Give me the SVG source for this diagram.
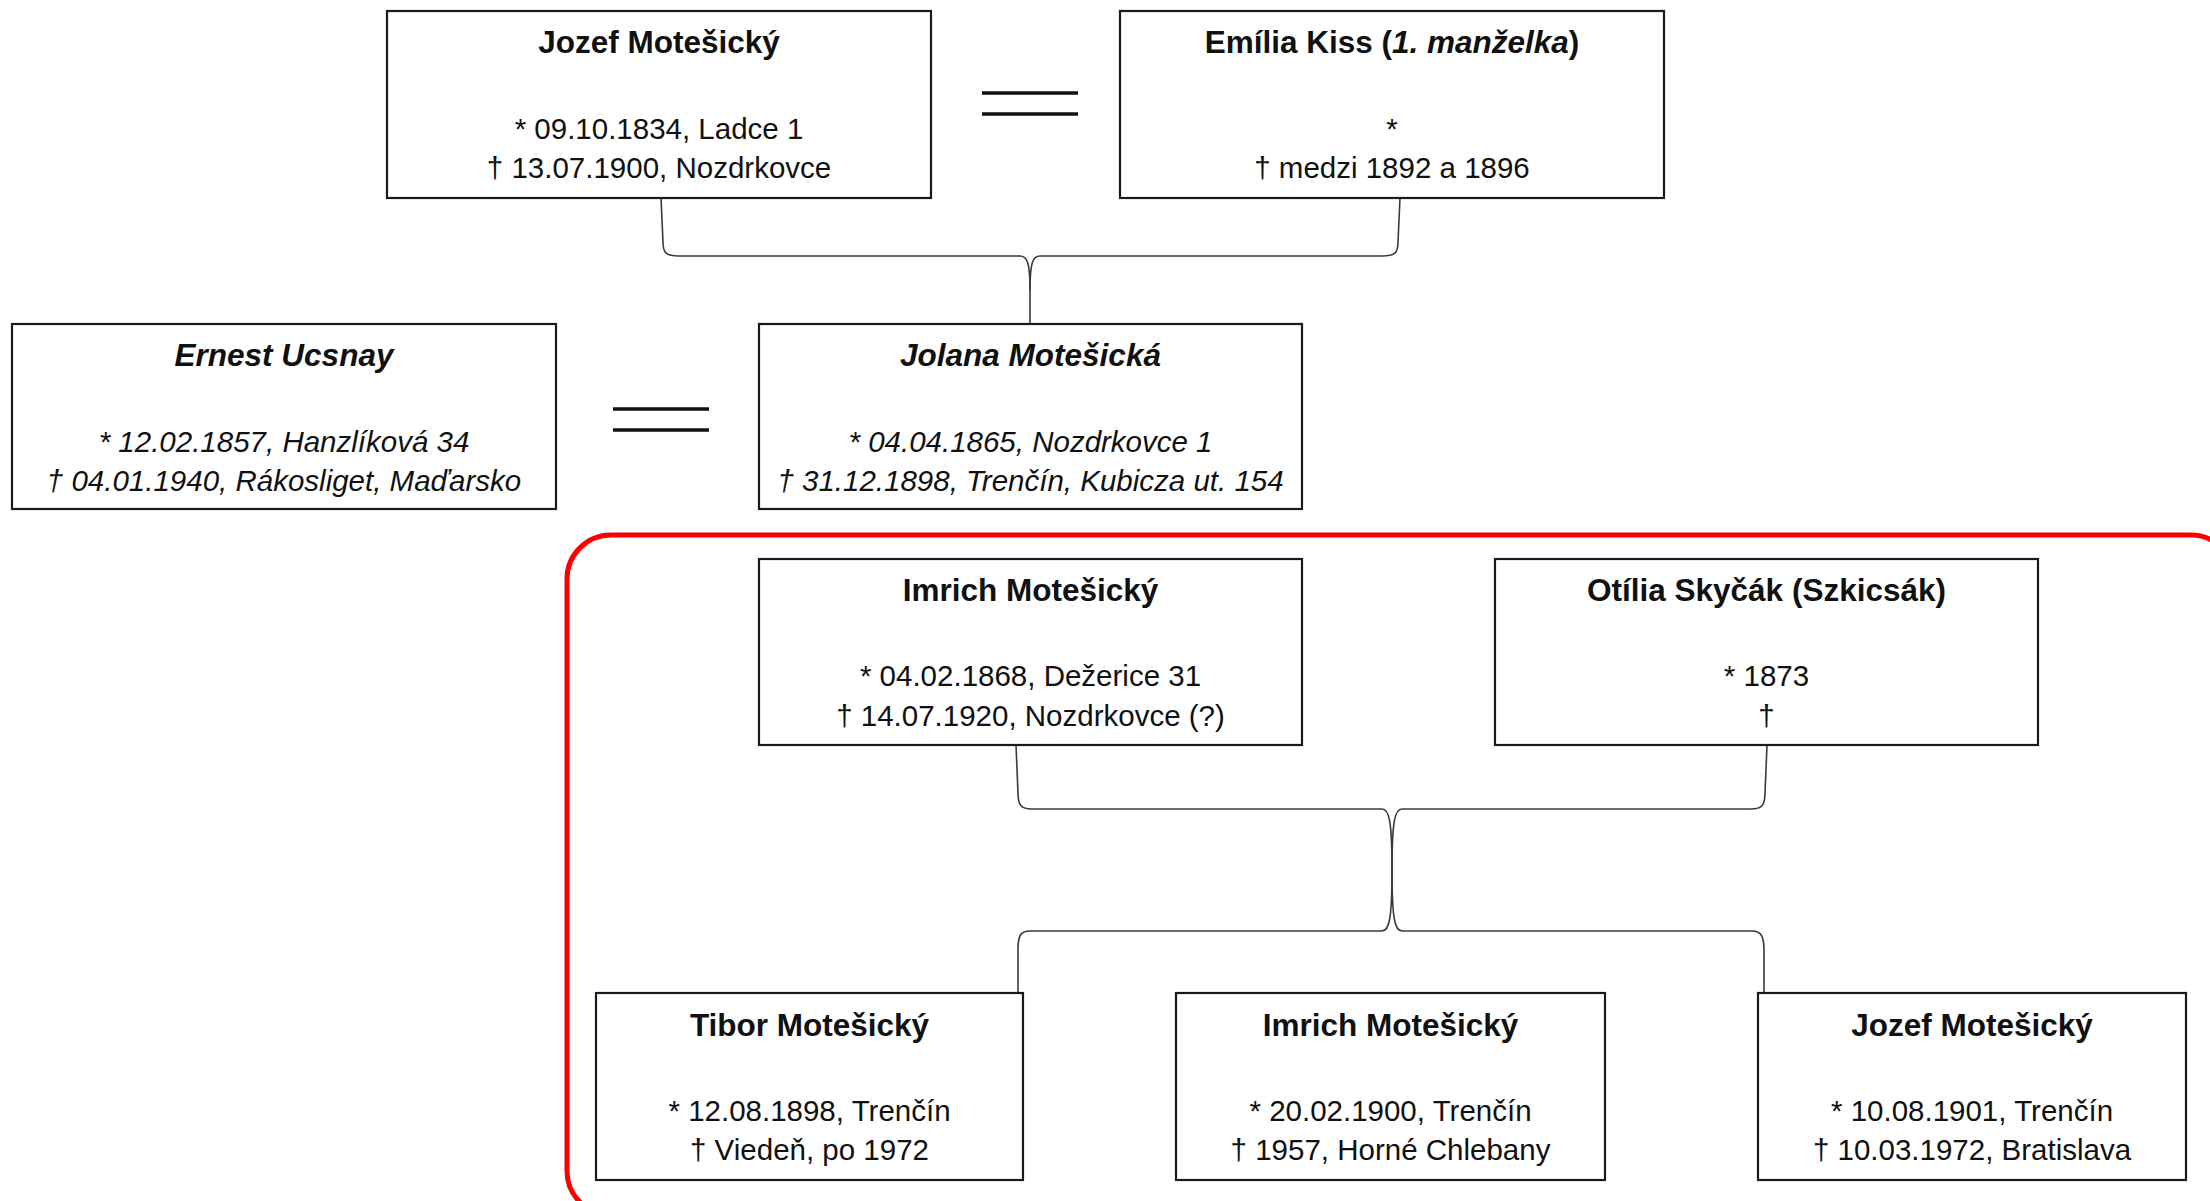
<svg xmlns="http://www.w3.org/2000/svg" width="2210" height="1201" viewBox="0 0 2210 1201">
  <style>
    .box { fill: #ffffff; stroke: #1a1a1a; stroke-width: 2.2; }
    .name { font-family: "Liberation Sans", Arial, sans-serif; font-size: 31.5px; font-weight: bold; fill: #111; text-anchor: middle; }
    .info { font-family: "Liberation Sans", Arial, sans-serif; font-size: 29.5px; fill: #111; text-anchor: middle; }
    .it { font-style: italic; }
    .conn { fill: none; stroke: #3a3a3a; stroke-width: 1.6; }
    .eq { stroke: #111; stroke-width: 3.5; }
    .frame { fill: none; stroke: #ff0000; stroke-width: 5; }
  </style>
  <rect x="0" y="0" width="2210" height="1201" fill="#ffffff"/>

  <rect class="frame" x="567" y="535" width="1668" height="680" rx="44" ry="44"/>

  <g id="connectors">
    <!-- Jozef + Emilia -> Jolana -->
    <path class="conn" d="M661,198 L663,242 C663,253 666,256 679,256 L1020,256 C1027,256 1030,262 1030,290 L1030,324"/>
    <path class="conn" d="M1400,198 L1398,242 C1398,253 1395,256 1382,256 L1040,256 C1033,256 1030,262 1030,290"/>
    <!-- Imrich + Otilia -> children -->
    <path class="conn" d="M1016,745 L1018,793 C1018,805 1021,809 1032,809 L1382,809 C1389,809 1392,820 1392,870 C1392,920 1389,931 1382,931 L1030,931 C1020,931 1018,936 1018,950 L1018,993"/>
    <path class="conn" d="M1767,745 L1765,793 C1765,805 1762,809 1751,809 L1402,809 C1395,809 1392,820 1392,870 C1392,920 1395,931 1402,931 L1752,931 C1761,931 1764,936 1764,950 L1764,993"/>
    <!-- marriage signs -->
    <line class="eq" x1="982" y1="93" x2="1078" y2="93"/>
    <line class="eq" x1="982" y1="114" x2="1078" y2="114"/>
    <line class="eq" x1="613" y1="409" x2="709" y2="409"/>
    <line class="eq" x1="613" y1="430" x2="709" y2="430"/>
  </g>

  <g id="jozef-motesicky">
    <rect class="box" x="387" y="11" width="544" height="187"/>
    <text class="name" x="659" y="53">Jozef Motešický</text>
    <text class="info" x="659" y="139">* 09.10.1834, Ladce 1</text>
    <text class="info" x="659" y="178">† 13.07.1900, Nozdrkovce</text>
  </g>

  <g id="emilia-kiss">
    <rect class="box" x="1120" y="11" width="544" height="187"/>
    <text class="name" x="1392" y="53">Emília Kiss (<tspan class="it">1. manželka</tspan>)</text>
    <text class="info" x="1392" y="139">*</text>
    <text class="info" x="1392" y="178">† medzi 1892 a 1896</text>
  </g>

  <g id="ernest-ucsnay">
    <rect class="box" x="12" y="324" width="544" height="185"/>
    <text class="name it" x="284" y="366">Ernest Ucsnay</text>
    <text class="info it" x="284" y="452">* 12.02.1857, Hanzlíková 34</text>
    <text class="info it" x="284" y="491">† 04.01.1940, Rákosliget, Maďarsko</text>
  </g>

  <g id="jolana-motesicka">
    <rect class="box" x="759" y="324" width="543" height="185"/>
    <text class="name it" x="1030.5" y="366">Jolana Motešická</text>
    <text class="info it" x="1030.5" y="452">* 04.04.1865, Nozdrkovce 1</text>
    <text class="info it" x="1030.5" y="491">† 31.12.1898, Trenčín, Kubicza ut. 154</text>
  </g>

  <g id="imrich-motesicky">
    <rect class="box" x="759" y="559" width="543" height="186"/>
    <text class="name" x="1030.5" y="601">Imrich Motešický</text>
    <text class="info" x="1030.5" y="686">* 04.02.1868, Dežerice 31</text>
    <text class="info" x="1030.5" y="726">† 14.07.1920, Nozdrkovce (?)</text>
  </g>

  <g id="otilia-skycak">
    <rect class="box" x="1495" y="559" width="543" height="186"/>
    <text class="name" x="1766.5" y="601">Otília Skyčák (Szkicsák)</text>
    <text class="info" x="1766.5" y="686">* 1873</text>
    <text class="info" x="1766.5" y="726">†</text>
  </g>

  <g id="tibor-motesicky">
    <rect class="box" x="596" y="993" width="427" height="187"/>
    <text class="name" x="809.5" y="1036">Tibor Motešický</text>
    <text class="info" x="809.5" y="1121">* 12.08.1898, Trenčín</text>
    <text class="info" x="809.5" y="1160">† Viedeň, po 1972</text>
  </g>

  <g id="imrich-motesicky-jr">
    <rect class="box" x="1176" y="993" width="429" height="187"/>
    <text class="name" x="1390.5" y="1036">Imrich Motešický</text>
    <text class="info" x="1390.5" y="1121">* 20.02.1900, Trenčín</text>
    <text class="info" x="1390.5" y="1160">† 1957, Horné Chlebany</text>
  </g>

  <g id="jozef-motesicky-jr">
    <rect class="box" x="1758" y="993" width="428" height="187"/>
    <text class="name" x="1972" y="1036">Jozef Motešický</text>
    <text class="info" x="1972" y="1121">* 10.08.1901, Trenčín</text>
    <text class="info" x="1972" y="1160">† 10.03.1972, Bratislava</text>
  </g>
</svg>
